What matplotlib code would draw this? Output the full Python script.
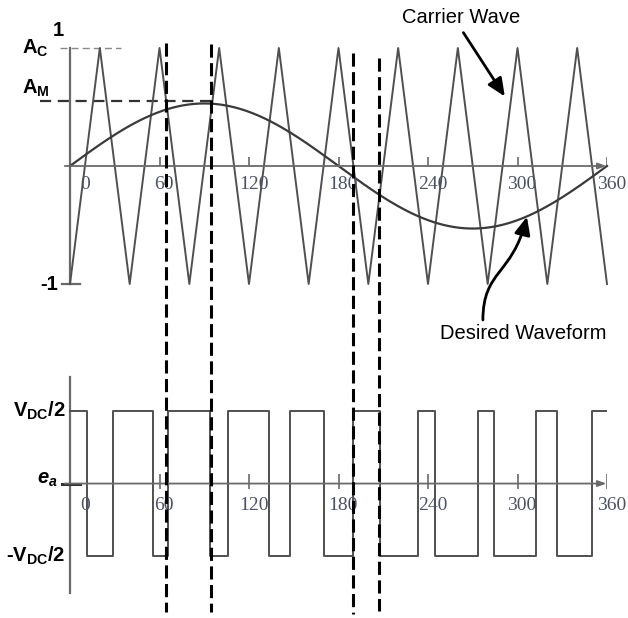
import numpy as np
import matplotlib
matplotlib.use("Agg")
import matplotlib.pyplot as plt
from matplotlib.patches import FancyArrowPatch
from matplotlib.path import Path

plt.rcParams['mathtext.fontset'] = 'custom'
plt.rcParams['mathtext.rm'] = 'Liberation Sans'
plt.rcParams['mathtext.bf'] = 'Liberation Sans:bold'
plt.rcParams['mathtext.it'] = 'Liberation Sans:italic'
plt.rcParams['mathtext.bfit'] = 'Liberation Sans:bold:italic'

# ---------------- data ----------------
tick_angles = [60, 120, 180, 240, 300, 360]
label_angles = [0, 60, 120, 180, 240, 300, 360]
tick_labels = ['0', '60', '120', '180', '240', '300', '360']

carrier_angles = [0, 20, 40, 60, 80, 100, 120, 140, 160, 180,
                  200, 220, 240, 260, 280, 300, 320, 340, 360]
carrier_levels = [-1, 1, -1, 1, -1, 1, -1, 1, -1, 1,
                  -1, 1, -1, 1, -1, 1, -1, 1, -1]

mod_amplitude = 0.53      # A_M relative to A_C = 1
am_level = 0.55

pwm_switch_angles = [11.4, 28.8, 55.6, 65.7, 93.8, 105.9, 133.4, 147.5, 170.2,
                     189.7, 207.8, 233.2, 244.6, 273.5, 284.2, 312.3, 326.4, 349.9]
pwm_start_level = 1
pwm_end_angle = 359

dashed_angles = [64.3, 94.5, 189.7, 207.1]
dashed_tops = [43, 44, 53, 58]      # figure pixel rows
dashed_bottoms = [612, 612, 614, 611]

# ---------------- figure ----------------
W, H = 628, 618
fig = plt.figure(figsize=(W / 100, H / 100), dpi=100)
left = 70 / W
width = 537 / W

ax1 = fig.add_axes([left, (H - 284) / H, width, 236 / H])
ax2 = fig.add_axes([left, (H - 593) / H, width, 216 / H])
ov = fig.add_axes([left, 0, width, 1], zorder=5)

axis_c = '#6a6a6a'
wave_c = '#505050'
lab_c = '#4c5168'

for ax in (ax1, ax2):
    ax.set_xlim(0, 360)
    ax.axis('off')
ax1.set_ylim(-1, 1)
ax2.set_ylim(-1.51, 1.47)

head = '-|>,head_length=0.9,head_width=0.4'

# ---- top axes frame ----
ax1.plot([0, 0], [-1, 1], color=axis_c, lw=1.6, clip_on=False)
ax1.annotate('', xy=(361.5, 0), xytext=(-5.4, 0),
             arrowprops=dict(arrowstyle='-|>,head_length=0.5,head_width=0.18',
                             color=axis_c, lw=1.3), annotation_clip=False)
ax1.vlines(tick_angles, 0, 0.08, color=axis_c, lw=1.2)
ax1.plot([-5.4, 6.7], [-1, -1], color=axis_c, lw=1.6, clip_on=False)
ax1.plot([-7, 34], [1, 1], color='#888888', lw=1.0, ls=(0, (5, 3)), clip_on=False)
ax1.plot([-20, 95], [am_level, am_level], color='#333333', lw=1.6,
         ls=(0, (5, 3)), clip_on=False)

# carrier and modulating wave
ax1.plot(carrier_angles, carrier_levels, color=wave_c, lw=1.4, clip_on=False)
theta = np.linspace(0, 360, 721)
ax1.plot(theta, mod_amplitude * np.sin(np.radians(theta)), color='#3a3a3a',
         lw=1.6, clip_on=False)

for a, t in zip(label_angles, tick_labels):
    off = 10 if a == 0 else 3
    ax1.text(a + off, -0.16, t, ha='center', va='center', fontsize=14,
             family='Liberation Serif', color=lab_c)

bold = dict(fontsize=14.5, family='Liberation Sans', fontweight='bold',
            color='black', clip_on=False)
ax1.text(-14.7, 1.0, r'$\mathbf{A_C}$', ha='right', va='center', **bold)
ax1.text(-8, 1.15, '1', ha='center', va='center', **bold)
ax1.text(-13.4, 0.66, r'$\mathbf{A_M}$', ha='right', va='center', **bold)
ax1.text(-8, -1.0, '-1', ha='right', va='center', **bold)

# annotations
ax1.text(262, 1.255, 'Carrier Wave', ha='center', va='center', fontsize=14.5,
         family='Liberation Sans', color='black')
ax1.annotate('', xy=(292.5, 0.57), xytext=(262.7, 1.15),
             arrowprops=dict(arrowstyle=head, color='black', lw=2,
                             mutation_scale=12),
             annotation_clip=False)
ax1.text(304, -1.42, 'Desired Waveform', ha='center', va='center', fontsize=14.5,
         family='Liberation Sans', color='black', clip_on=False)
verts = [(276.8, -1.305), (276.9, -0.88), (296.3, -0.93), (306.3, -0.43)]
codes = [Path.MOVETO, Path.CURVE4, Path.CURVE4, Path.CURVE4]
arr = FancyArrowPatch(path=Path(verts, codes), arrowstyle=head,
                      color='black', lw=2, mutation_scale=12,
                      transform=ax1.transData, clip_on=False)
ax1.add_patch(arr)

# ---- bottom axes ----
ax2.plot([0, 0], [-1.51, 1.47], color=axis_c, lw=1.6, clip_on=False)
ax2.annotate('', xy=(361.5, 0), xytext=(-5.4, 0),
             arrowprops=dict(arrowstyle='-|>,head_length=0.5,head_width=0.18',
                             color=axis_c, lw=1.3), annotation_clip=False)
ax2.vlines(tick_angles, -0.08, 0.13, color=axis_c, lw=1.2)
ax2.plot([-5.4, 6.7], [0, 0], color='#333333', lw=2.2, clip_on=False)

edges = [0] + pwm_switch_angles + [pwm_end_angle]
levels = [pwm_start_level * (-1) ** i for i in range(len(edges) - 1)]
ax2.step(edges, levels + [levels[-1]], where='post', color=wave_c, lw=1.4,
         clip_on=False)

for a, t in zip(label_angles, tick_labels):
    off = 10 if a == 0 else 3
    ax2.text(a + off, -0.30, t, ha='center', va='center', fontsize=14,
             family='Liberation Serif', color=lab_c)

ax2.text(-2.7, 1.0, r'$\mathbf{V_{DC}/2}$', ha='right', va='center', **bold)
ax2.text(-8, 0.06, r'$\mathbfit{e_a}$', ha='right', va='center', **bold)
ax2.text(-3.4, -1.0, r'-$\mathbf{V_{DC}/2}$', ha='right', va='center', **bold)

# ---- dashed vertical markers spanning both panels ----
ov.set_xlim(0, 360)
ov.set_ylim(H, 0)
ov.axis('off')
ov.patch.set_alpha(0)
for a, t, b in zip(dashed_angles, dashed_tops, dashed_bottoms):
    ov.plot([a, a], [t, b], color='black', lw=2.2, ls=(0, (4.3, 1.8)))

fig.savefig('out.png', dpi=100)
